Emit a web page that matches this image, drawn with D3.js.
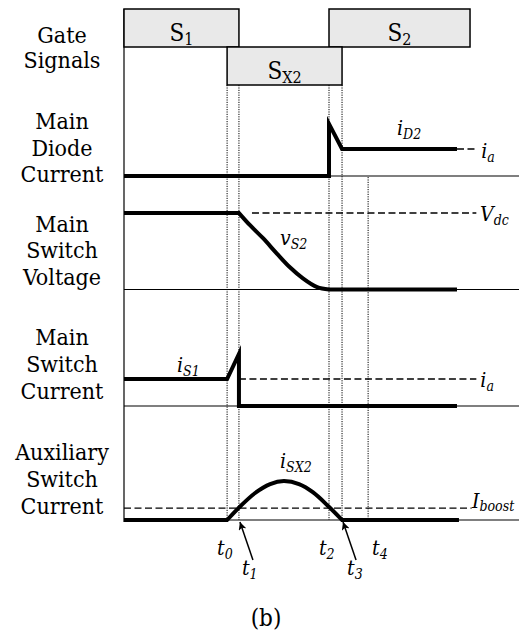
<!DOCTYPE html>
<html>
<head>
<meta charset="utf-8">
<script src="https://cdn.jsdelivr.net/npm/d3@7"></script>
<style>
  html, body { margin: 0; padding: 0; background: #fff; }
  svg { display: block; }
  text { font-stretch: condensed; }
</style>
</head>
<body>
<svg id="chart" width="519" height="640"></svg>
<script>
// ---- data (time in arbitrary units, 0 = left edge of the window) ----
const instants = [
  { label: "0", t: 26.1, row: 0 },
  { label: "1", t: 29.1, row: 1 },
  { label: "2", t: 51.9, row: 0 },
  { label: "3", t: 55.2, row: 1 },
  { label: "4", t: 61.8, row: 0 }
];
const gates = [
  { base: "S", sub: "1",  start: 0,    end: 29.1, row: 0 },
  { base: "S", sub: "2",  start: 51.9, end: 87.6, row: 0 },
  { base: "S", sub: "X2", start: 26.1, end: 55.2, row: 1 }
];
const panelTitles = [
  ["Gate", "Signals"],
  ["Main", "Diode", "Current"],
  ["Main", "Switch", "Voltage"],
  ["Main", "Switch", "Current"],
  ["Auxiliary", "Switch", "Current"]
];
// main diode current, per unit of i_a
const diodeCurrent = [[0, 0], [51.9, 0], [51.9, 1.93], [55.2, 1], [84.3, 1]];
// main switch voltage, per unit of V_dc
const voltageHigh = [[0, 1], [29.1, 1]];
const voltageFall = [[29.1, 1], [31.9, 0.84], [35.2, 0.67], [38.7, 0.47], [42.0, 0.29],
                     [45.3, 0.145], [48.9, 0.03], [51.9, 0]];
const voltageLow = [[51.9, 0], [84.3, 0]];
// main switch current, per unit of i_a
const switchCurrent = [[0, 1], [26.1, 1], [29.1, 1.93], [29.1, 0], [84.3, 0]];
// auxiliary switch current, per unit of i_a
const auxBefore = [[0, 0], [26.1, 0]];
const auxPulse = [[26.1, 0], [29.6, 0.53], [33.2, 1.0], [37.0, 1.33], [40.5, 1.44],
                  [44.3, 1.33], [47.8, 1.03], [51.6, 0.53], [55.2, 0]];
const auxAfter = [[55.2, 0], [84.8, 0]];
const iBoost = 0.44;
// reference levels drawn dashed: [from, to] in time units
const diodeRef = [84.3, 89.4];
const voltageRef = [32.4, 89.2];
const switchRef = [29.1, 89.2];
const boostRef = [0, 88.0];

// ---- scales ----
const FONT = "'DejaVu Serif Condensed', 'DejaVu Serif', serif";
const svg = d3.select("#chart").attr("font-family", FONT);
const x = d3.scaleLinear().domain([0, 100]).range([124, 519]);
const gateRow = d3.scaleBand().domain([0, 1]).range([9, 85]);
const yDiode = d3.scaleLinear().domain([0, 1]).range([176, 149]);
const yVolt = d3.scaleLinear().domain([0, 1]).range([289.5, 213]);
const ySw = d3.scaleLinear().domain([0, 1]).range([406, 379]);
const yAux = d3.scaleLinear().domain([0, 1]).range([520, 493]);

// joins several line pieces (straight or smooth) into one path string
function tracePath(y, pieces) {
  return pieces.map((p, i) => {
    const gen = d3.line().x(d => x(d[0])).y(d => y(d[1]))
      .curve(p.smooth ? d3.curveMonotoneX : d3.curveLinear);
    const d = gen(p.pts);
    return i ? d.replace(/^M/, "L") : d;
  }).join("");
}

// text with a subscript
function subText(g, px, py, base, sub, o) {
  const t = g.append("text")
    .attr("x", px).attr("y", py)
    .attr("font-family", FONT)
    .attr("font-size", o.size)
    .attr("font-style", o.italic ? "italic" : "normal")
    .attr("text-anchor", o.anchor || "start");
  t.append("tspan").text(base);
  t.append("tspan").attr("font-size", o.subSize).attr("dy", o.dy).text(sub);
  return t;
}

// ---- panel titles ----
const titleLayout = [
  { y0: 43, step: 25 }, { y0: 129, step: 26.5 }, { y0: 231.5, step: 26.5 },
  { y0: 345, step: 27 }, { y0: 460, step: 27 }
];
panelTitles.forEach((lines, i) => {
  const t = svg.append("text").attr("text-anchor", "middle").attr("font-size", 23)
    .attr("font-family", FONT);
  lines.forEach((s, j) => {
    t.append("tspan").attr("x", 62).attr("y", titleLayout[i].y0 + j * titleLayout[i].step).text(s);
  });
});

// ---- dotted instant markers ----
const markers = svg.append("g").attr("stroke", "#000").attr("stroke-width", 1)
  .attr("stroke-dasharray", "1.2,1.2");
instants.forEach((d, i) => {
  const top = i === 4 ? yDiode(0) + 1 : gateRow(1) + gateRow.bandwidth();
  markers.append("line")
    .attr("x1", x(d.t)).attr("x2", x(d.t))
    .attr("y1", top).attr("y2", yAux(0));
});

// ---- baselines and vertical axis ----
const thin = svg.append("g").attr("stroke", "#000").attr("stroke-width", 1.2);
[yDiode, yVolt, ySw, yAux].forEach(y => {
  thin.append("line").attr("x1", x(0)).attr("x2", x(100)).attr("y1", y(0)).attr("y2", y(0));
});
thin.append("line").attr("x1", x(0)).attr("x2", x(0)).attr("y1", gateRow(0)).attr("y2", yAux(0) + 2);

// ---- gate signal boxes ----
gates.forEach(g => {
  svg.append("rect")
    .attr("x", x(g.start)).attr("y", gateRow(g.row))
    .attr("width", x(g.end) - x(g.start)).attr("height", gateRow.bandwidth())
    .attr("fill", "#e9e9e9").attr("stroke", "#000").attr("stroke-width", 1.5);
  subText(svg, (x(g.start) + x(g.end)) / 2, gateRow(g.row) + 31.5, g.base, g.sub,
    { size: 24, subSize: 16, dy: 4, anchor: "middle" });
});

// ---- dashed reference levels ----
const dashed = svg.append("g").attr("stroke", "#000").attr("stroke-width", 1.3)
  .attr("stroke-dasharray", "7,3.5").attr("fill", "none");
dashed.append("line").attr("x1", x(diodeRef[0])).attr("x2", x(diodeRef[1]))
  .attr("y1", yDiode(1)).attr("y2", yDiode(1));
dashed.append("line").attr("x1", x(voltageRef[0])).attr("x2", x(voltageRef[1]))
  .attr("y1", yVolt(1)).attr("y2", yVolt(1));
dashed.append("line").attr("x1", x(switchRef[0])).attr("x2", x(switchRef[1]))
  .attr("y1", ySw(1)).attr("y2", ySw(1));
dashed.append("line").attr("x1", x(boostRef[0])).attr("x2", x(boostRef[1]))
  .attr("y1", yAux(iBoost)).attr("y2", yAux(iBoost));

// ---- waveforms ----
const traces = svg.append("g").attr("fill", "none").attr("stroke", "#000")
  .attr("stroke-width", 4).attr("stroke-linejoin", "miter").attr("stroke-miterlimit", 10);
traces.append("path").attr("d", tracePath(yDiode, [{ pts: diodeCurrent }]));
traces.append("path").attr("d", tracePath(yVolt, [
  { pts: voltageHigh }, { pts: voltageFall, smooth: true }, { pts: voltageLow }]));
traces.append("path").attr("d", tracePath(ySw, [{ pts: switchCurrent }]));
traces.append("path").attr("d", tracePath(yAux, [
  { pts: auxBefore }, { pts: auxPulse, smooth: true }, { pts: auxAfter }]));

// ---- waveform labels ----
const it = { size: 21, subSize: 14, dy: 4, italic: true };
subText(svg, 397, yDiode(1.93) + 11, "i", "D2", it);
subText(svg, x(diodeRef[1]) + 4, yDiode(1) + 9, "i", "a", it);
subText(svg, 480, yVolt(1) + 8, "V", "dc", it);
subText(svg, 280, 245, "v", "S2", it);
subText(svg, 177, ySw(1) - 7, "i", "S1", it);
subText(svg, x(switchRef[1]) + 4, ySw(1) + 8, "i", "a", it);
subText(svg, 280, yAux(1.44) - 13, "i", "SX2", it);
subText(svg, 472, yAux(iBoost), "I", "boost", { size: 21, subSize: 14, dy: 3, italic: true });

// ---- instant labels and arrows ----
svg.append("defs").append("marker")
  .attr("id", "head").attr("viewBox", "0 0 10 10").attr("refX", 10).attr("refY", 5)
  .attr("markerWidth", 9).attr("markerHeight", 8).attr("markerUnits", "userSpaceOnUse")
  .attr("orient", "auto")
  .append("path").attr("d", "M0,0L10,5L0,10L2.5,5Z").attr("fill", "#000");
const labelDx = [-10, 3, -10, 5, 4];
const rowY = [555, 575];
instants.forEach((d, i) => {
  subText(svg, x(d.t) + labelDx[i], rowY[d.row], "t", d.label,
    { size: 21, subSize: 14, dy: 4, italic: true });
  if (d.row === 1) {
    const tipX = x(d.t) + 1, tipY = yAux(0) + 2;
    svg.append("line")
      .attr("x1", tipX + 13).attr("y1", tipY + 38)
      .attr("x2", tipX).attr("y2", tipY)
      .attr("stroke", "#000").attr("stroke-width", 1.5)
      .attr("marker-end", "url(#head)");
  }
});

// ---- caption ----
svg.append("text").attr("x", 266).attr("y", 626).attr("text-anchor", "middle")
  .attr("font-family", FONT).attr("font-size", 24).text("(b)");
</script>
</body>
</html>
